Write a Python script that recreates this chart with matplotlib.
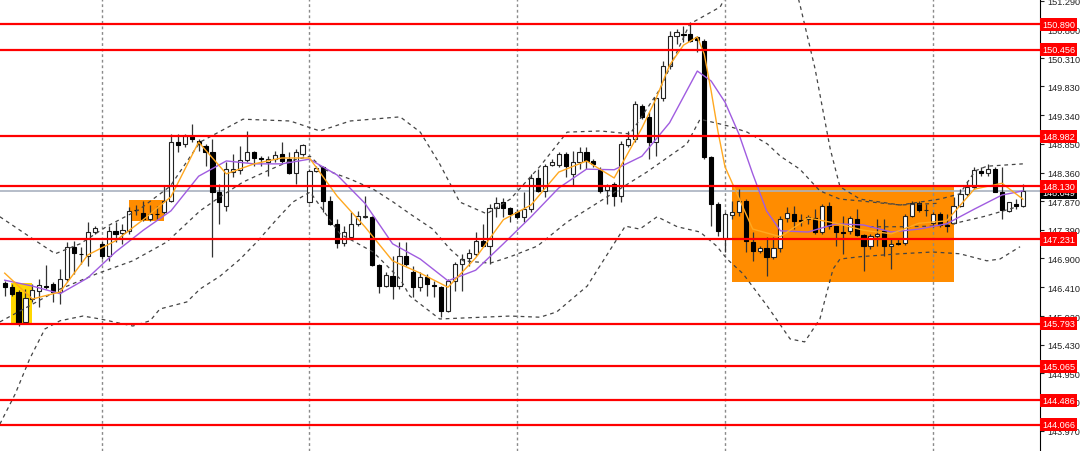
import numpy as np
import matplotlib.pyplot as plt
from matplotlib.patches import Rectangle

# candles (oldest -> newest)
opens = [146.48, 146.41, 146.33, 145.82, 146.21, 146.35, 146.43, 146.47, 146.33, 146.55,
         147.10, 146.98, 146.94, 147.35, 147.15, 146.94, 147.37, 147.33, 147.37, 147.73,
         147.67, 147.57, 147.66, 147.69, 147.88, 148.88, 148.85, 148.98, 148.90, 148.81,
         148.71, 148.03, 147.79, 148.37, 148.41, 148.58, 148.71, 148.61, 148.54, 148.59,
         148.68, 148.59, 148.36, 148.68, 147.86, 148.39, 148.46, 147.88, 147.49, 147.16,
         147.27, 147.49, 147.61, 147.61, 146.79, 146.43, 146.60, 146.43, 146.94, 146.67,
         146.41, 146.58, 146.45, 146.41, 146.01, 146.52, 146.81, 146.91, 146.98, 147.20,
         147.11, 147.76, 147.86, 147.76, 147.69, 147.61, 147.74, 148.27, 148.05, 148.49,
         148.49, 148.68, 148.34, 148.54, 148.71, 148.56, 148.41, 148.06, 148.17, 147.96,
         148.83, 148.93, 149.50, 149.31, 148.88, 149.63, 150.18, 150.69, 150.72, 150.72,
         150.67, 150.60, 148.63, 147.83, 147.23, 147.64, 147.69, 147.88, 147.18, 147.03,
         147.08, 146.92, 147.08, 147.59, 147.66, 147.56, 147.57, 147.59, 147.35, 147.79,
         147.45, 147.35, 147.37, 147.57, 147.30, 147.11, 147.28, 147.37, 147.11, 147.16,
         147.16, 147.62, 147.84, 147.72, 147.50, 147.66, 147.47, 147.50, 147.79, 148.00,
         148.12, 148.39, 148.36, 148.42, 148.03, 147.71, 147.83, 147.79]
highs = [146.52, 146.47, 146.36, 146.38, 146.47, 146.55, 146.79, 146.50, 146.72, 147.18,
         147.20, 147.10, 147.52, 147.45, 147.20, 147.45, 147.52, 147.49, 147.78, 147.81,
         147.88, 147.81, 147.79, 148.13, 149.02, 149.02, 149.02, 149.19, 148.93, 148.85,
         148.93, 148.17, 148.54, 148.68, 148.81, 149.07, 148.73, 148.64, 148.64, 148.73,
         148.88, 148.71, 148.76, 148.85, 148.42, 148.47, 148.47, 147.96, 147.57, 147.45,
         147.69, 147.71, 147.96, 147.62, 146.81, 146.67, 146.94, 147.18, 147.18, 146.77,
         146.67, 146.64, 146.52, 146.43, 146.55, 146.84, 146.98, 147.06, 147.35, 147.49,
         147.83, 147.95, 147.93, 147.78, 147.74, 148.03, 148.34, 148.42, 148.51, 148.59,
         148.71, 148.71, 148.73, 148.80, 148.80, 148.59, 148.46, 148.17, 148.20, 148.90,
         149.07, 149.58, 149.53, 149.39, 149.65, 150.26, 150.77, 150.81, 150.86, 150.93,
         150.69, 150.64, 148.64, 147.86, 147.69, 147.88, 148.08, 147.91, 147.35, 147.11,
         147.27, 147.27, 147.62, 147.78, 147.79, 147.66, 147.64, 147.74, 147.83, 147.86,
         147.45, 147.62, 147.62, 147.74, 147.32, 147.32, 147.57, 147.57, 147.23, 147.23,
         147.66, 147.88, 147.88, 147.83, 147.69, 147.69, 147.66, 147.95, 148.08, 148.22,
         148.46, 148.46, 148.51, 148.46, 148.46, 147.86, 147.91, 148.17]
lows = [146.26, 146.26, 145.75, 145.78, 146.16, 146.07, 146.38, 146.16, 146.13, 146.50,
        146.64, 146.81, 146.77, 147.32, 146.89, 146.86, 147.18, 147.15, 147.32, 147.64,
        147.54, 147.54, 147.57, 147.66, 147.86, 148.71, 148.80, 148.88, 148.73, 148.47,
        146.93, 147.49, 147.71, 148.29, 148.34, 148.54, 148.47, 148.47, 148.30, 148.54,
        148.51, 148.34, 148.17, 148.64, 147.84, 148.37, 147.69, 147.47, 147.08, 147.11,
        147.23, 147.45, 147.59, 146.77, 146.31, 146.41, 146.21, 146.38, 146.77, 146.24,
        146.35, 146.26, 146.24, 145.90, 145.99, 146.35, 146.35, 146.77, 146.94, 147.10,
        146.81, 147.61, 147.61, 147.52, 147.57, 147.52, 147.69, 148.03, 147.95, 148.47,
        148.46, 148.29, 148.15, 148.42, 148.42, 148.46, 148.01, 147.83, 147.79, 147.86,
        148.80, 148.88, 149.27, 148.59, 148.64, 149.58, 150.13, 150.55, 150.58, 150.58,
        150.41, 148.59, 147.45, 147.28, 147.01, 147.57, 147.62, 147.01, 146.86, 146.99,
        146.60, 146.89, 147.01, 147.52, 147.40, 147.45, 147.49, 147.32, 147.32, 147.40,
        147.11, 146.98, 147.32, 147.28, 146.69, 147.06, 147.11, 146.94, 146.72, 147.13,
        147.13, 147.61, 147.69, 147.62, 147.44, 147.44, 147.35, 147.49, 147.78, 147.96,
        148.08, 148.30, 148.30, 148.03, 147.57, 147.69, 147.74, 147.78]
closes = [146.41, 146.30, 145.80, 146.23, 146.36, 146.45, 146.42, 146.33, 146.55, 147.10,
          146.99, 146.97, 147.35, 147.42, 146.94, 147.37, 147.32, 147.38, 147.71, 147.72,
          147.57, 147.66, 147.65, 147.88, 148.88, 148.83, 148.98, 148.93, 148.85, 148.71,
          148.03, 147.86, 148.42, 148.42, 148.58, 148.71, 148.61, 148.60, 148.59, 148.66,
          148.56, 148.36, 148.71, 148.83, 148.39, 148.44, 147.88, 147.49, 147.16, 147.35,
          147.49, 147.62, 147.61, 146.79, 146.43, 146.62, 146.43, 146.94, 146.81, 146.41,
          146.58, 146.47, 146.43, 146.01, 146.52, 146.81, 146.89, 146.99, 147.20, 147.11,
          147.76, 147.84, 147.76, 147.66, 147.61, 147.74, 148.27, 148.05, 148.47, 148.54,
          148.68, 148.47, 148.54, 148.71, 148.56, 148.51, 148.05, 148.13, 147.96, 148.85,
          148.93, 149.53, 149.31, 148.88, 149.63, 150.18, 150.69, 150.75, 150.71, 150.60,
          150.62, 148.63, 147.83, 147.37, 147.66, 147.69, 147.88, 147.20, 147.03, 147.08,
          146.92, 147.08, 147.57, 147.67, 147.54, 147.54, 147.61, 147.35, 147.79, 147.45,
          147.35, 147.34, 147.59, 147.30, 147.11, 147.28, 147.32, 147.11, 147.15, 147.15,
          147.62, 147.84, 147.72, 147.72, 147.66, 147.47, 147.45, 147.79, 148.00, 148.12,
          148.41, 148.36, 148.42, 148.03, 147.72, 147.86, 147.79, 148.05]

# fast (orange) and slow (purple) moving averages, read at candle indices
fast_idx = [0, 4, 8, 12, 16, 20, 24, 28, 32, 36, 40, 44, 48, 52, 56, 60, 64, 68, 72, 76,
            80, 84, 88, 92, 94, 96, 98, 100, 101, 102, 103, 104, 108, 112, 116, 120, 124,
            128, 132, 136, 140, 144, 147]
fast_ma = [146.65, 146.21, 146.33, 146.96, 147.20, 147.56, 147.95, 148.88, 148.34, 148.51,
           148.61, 148.61, 147.96, 147.44, 146.86, 146.65, 146.41, 146.91, 147.56, 147.81,
           148.37, 148.56, 148.27, 149.12, 149.61, 150.19, 150.53, 150.67, 150.38, 149.75,
           149.05, 148.46, 147.40, 147.27, 147.59, 147.50, 147.38, 147.32, 147.50, 147.54,
           148.08, 148.18, 147.91]
slow_idx = [0, 4, 8, 12, 16, 20, 24, 28, 32, 36, 40, 44, 48, 52, 56, 60, 64, 68, 72, 76,
            80, 84, 88, 92, 96, 100, 102, 104, 106, 108, 110, 112, 116, 120, 124, 128, 132,
            136, 140, 144, 147]
slow_ma = [146.53, 146.43, 146.30, 146.57, 147.01, 147.38, 147.71, 148.30, 148.56, 148.51,
           148.51, 148.59, 148.32, 147.84, 147.15, 146.89, 146.52, 146.70, 147.15, 147.61,
           148.10, 148.42, 148.41, 148.64, 149.21, 150.09, 149.92, 149.56, 149.02, 148.34,
           147.71, 147.37, 147.35, 147.49, 147.47, 147.35, 147.40, 147.49, 147.74, 147.98,
           148.05]

# dashed envelope curves
upper_idx = [-0.7, 4.1, 7.3, 10.9, 14.8, 19.5, 23.9, 28.2, 34.4, 41.2, 45.5, 49.9, 57.1,
             60.0, 62.8, 65.7, 69.6, 73.0, 77.3, 81.2, 86.0, 90.3, 94.6, 98.9, 103.3, 106.2,
             113.4, 114.8, 117.0, 119.2, 120.6, 123.5, 129.3, 135.0, 137.9, 140.1, 141.8, 147.0]
upper_band = [147.61, 147.23, 146.98, 147.15, 147.45, 147.74, 148.13, 148.88, 149.27, 149.24,
              149.07, 149.24, 149.31, 149.05, 148.51, 147.86, 147.66, 147.91, 148.47, 149.05,
              149.07, 149.02, 149.78, 150.89, 151.18, 151.83, 151.83, 151.23, 150.13, 148.76,
              148.12, 147.91, 147.81, 147.91, 148.00, 148.39, 148.47, 148.51]
inner_idx = [-0.7, 3.2, 8.0, 13.3, 18.5, 23.4, 28.2, 31.1, 34.4, 37.9, 41.2, 44.1, 46.0,
             49.9, 53.2, 56.1, 58.5, 61.8, 64.3, 66.2, 70.1, 73.0, 76.9, 81.2, 87.0, 92.7,
             98.5, 100.4, 104.3, 107.2, 110.1, 112.0, 114.8, 117.7, 120.6, 123.5, 129.3, 135.0]
inner_band = [145.82, 146.07, 146.38, 146.64, 146.86, 147.18, 147.71, 147.95, 148.20, 148.39,
              148.56, 148.64, 148.42, 148.25, 148.08, 147.86, 147.66, 147.40, 147.06, 146.86,
              146.82, 146.93, 147.11, 147.52, 147.95, 148.37, 148.85, 149.27, 149.16, 149.05,
              148.85, 148.64, 148.42, 148.05, 147.91, 147.88, 147.81, 147.84]
mid_idx = [124.9, 129.3, 134.0, 136.9, 141.6, 146.2]
mid_band = [147.44, 147.44, 147.45, 147.49, 147.62, 147.78]
lower_idx = [-0.7, 1.5, 3.6, 5.8, 8.0, 11.3, 13.8, 18.5, 21.0, 22.4, 26.3, 28.2, 31.1, 34.0,
             36.4, 39.3, 41.6, 44.1, 48.4, 53.2, 57.1, 58.5, 62.8, 73.0, 77.3, 79.7, 84.1,
             88.4, 89.6, 91.7, 94.2, 97.1, 100.4, 102.8, 104.3, 106.6, 110.1, 113.4, 115.5,
             117.7, 119.6, 120.6, 123.5, 129.3, 134.0, 137.9, 141.8, 143.7, 146.6]
lower_band = [144.08, 144.59, 145.19, 145.70, 145.84, 145.92, 145.87, 145.75, 145.84, 146.04,
              146.16, 146.38, 146.60, 146.89, 147.18, 147.57, 147.86, 148.03, 147.32, 147.01,
              146.55, 146.26, 145.87, 145.92, 145.90, 145.99, 146.43, 147.23, 147.45, 147.40,
              147.61, 147.44, 147.35, 147.11, 146.89, 146.64, 146.09, 145.53, 145.48, 145.87,
              146.72, 146.89, 146.93, 146.98, 147.01, 146.98, 146.86, 146.89, 147.10]

levels = [150.890, 150.456, 148.982, 148.130, 147.231, 145.793, 145.065, 144.486, 144.066]
last_price = 148.049
yticks = [151.290, 150.800, 150.310, 149.830, 149.340, 148.850, 148.360, 147.870,
          147.390, 146.900, 146.410, 145.920, 145.430, 144.950, 144.460, 143.970]
grid_idx = [14, 44, 74, 104, 134]

# highlighted zones: (first idx, last idx, low, high)
zone_yellow = (0.9, 3.9, 145.77, 146.48)
zone_small = (18.0, 23.0, 147.54, 147.90)
zone_big = (105.05, 137.07, 146.50, 148.12)

plt.rcParams['font.family'] = ['Liberation Sans', 'DejaVu Sans']

fig = plt.figure(figsize=(10.8, 4.52), dpi=100)
ax = fig.add_axes([0, 0, 1040 / 1080, 1])

for z, col in [(zone_yellow, '#ffd700'), (zone_small, '#ff8c00'), (zone_big, '#ff8c00')]:
    ax.add_patch(Rectangle((z[0], z[2]), z[1] - z[0], z[3] - z[2], color=col, lw=0, zorder=0))

for g in grid_idx:
    ax.axvline(g, color='#8a8a8a', lw=1, ls=(0, (2, 2)), zorder=1)

x = np.arange(len(opens))
o = np.array(opens); c = np.array(closes)
ax.vlines(x, lows, highs, color='#333333', lw=0.9, zorder=3)
up = c >= o
body = np.maximum(np.abs(c - o), 0.012)
ax.bar(x[up], body[up], bottom=np.minimum(o, c)[up], width=0.6, color='white',
       edgecolor='#222222', lw=0.8, zorder=4)
ax.bar(x[~up], body[~up], bottom=np.minimum(o, c)[~up], width=0.6, color='black',
       edgecolor='black', lw=0.8, zorder=4)

for bi, bv in [(upper_idx, upper_band), (inner_idx, inner_band), (mid_idx, mid_band),
               (lower_idx, lower_band)]:
    ax.plot(bi, bv, color='#444444', lw=0.9, ls=(0, (3, 3)), zorder=5)

ax.plot(slow_idx, slow_ma, color='#a05ce0', lw=1.0, zorder=6)
ax.plot(fast_idx, fast_ma, color='#ffa820', lw=1.0, zorder=6)

ax.axhline(last_price, color='#a9b2c0', lw=1.2, zorder=2)
for lv in levels:
    ax.axhline(lv, color='#ff0000', lw=1.6, zorder=7)

ax.set_xlim(-0.68, 149.48)
ax.set_ylim(143.623, 151.316)
ax.set_xticks([])
ax.yaxis.tick_right()
ax.set_yticks(yticks)
ax.set_yticklabels([f'{v:.3f}' for v in yticks], fontsize=6.6)
ax.tick_params(axis='y', length=3, width=0.8, pad=2, colors='#222222')
for s in ['top', 'left', 'bottom']:
    ax.spines[s].set_visible(False)
ax.spines['right'].set_linewidth(0.8)

tr = ax.get_yaxis_transform()
ax.text(1.002, last_price - 0.03, f'{last_price:.3f}', transform=tr, fontsize=6.6,
        color='white', va='center', ha='left', clip_on=False, zorder=9,
        bbox=dict(boxstyle='square,pad=0.22', fc='black', ec='none'))
for lv in levels:
    ax.text(1.002, lv, f'{lv:.3f}', transform=tr, fontsize=6.6, color='white',
            va='center', ha='left', clip_on=False, zorder=10,
            bbox=dict(boxstyle='square,pad=0.22', fc='#ff0000', ec='none'))

fig.savefig('out.png', dpi=100)
